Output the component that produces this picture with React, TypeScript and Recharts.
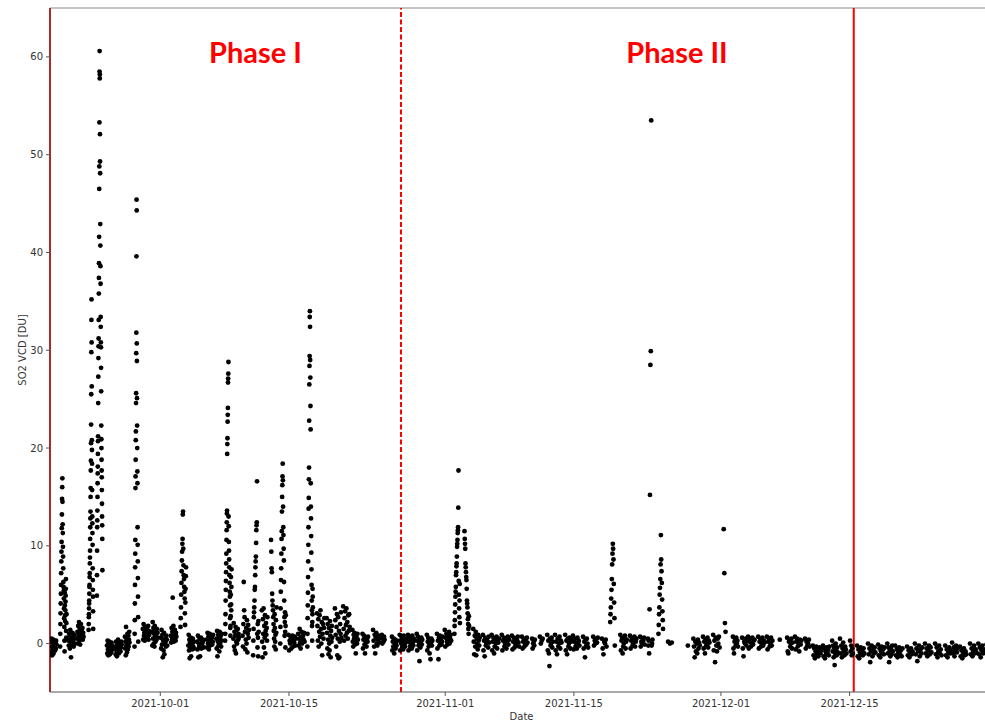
import { ScatterChart, Scatter, XAxis, YAxis, ReferenceLine } from "recharts";

const DAY = 86400000;
const BASE = Date.UTC(2021, 8, 19);

// [day since 2021-09-19, span of the day's overpasses in days, SO2 VCD values in time order]
type DayCol = [number, number, number[]];

const septemberDays: DayCol[] = [
  [0.1, 0.6, [0.2, -0.9, 0.5, -0.3, -1.2, 0.1, -0.6, 0.4, -1.0, 0.0, -0.4, 0.3, -0.2, -0.7, 0.1, -0.5, 0.3, -0.1]],
  [1.1, 0.7, [-0.3, 1.0, 2.0, 3.1, 4.1, 5.1, 6.0, 7.2, 8.4, 9.4, 10.4, 11.8, 13.2, 14.8, 16.0, 16.9, 14.5, 12.2, 11.3, 9.9, 8.9, 7.7, 6.3, 5.8, 5.4, 4.6, 3.6, 2.6, 1.7, 0.3, -0.8, 5.2, 3.9, 2.3, 2.9, 3.4, 4.3, 4.9, 5.6, 6.6, 1.3, 0.6, 2.1, 3.0]],
  [2.0, 0.7, [0.3, -0.2, 1.0, 0.6, -0.5, 1.4, 0.1, -1.4, 0.8, -0.1, 0.4, 1.1, 0.2, 0.7, -0.3, 0.5, 0.9, 0.0]],
  [2.95, 0.7, [0.5, 1.2, 0.0, 1.8, 0.8, 2.2, 0.3, 1.5, -0.1, 1.0, 2.0, 0.6, 1.3, 0.9, 1.6, 0.4, 1.1, 0.7]],
  [4.2, 0.5, [1.4, 2.0, 2.7, 3.0, 3.6, 4.1, 4.4, 5.1, 5.8, 6.0, 6.8, 7.2, 8.2, 8.8, 9.5, 10.7, 11.9, 12.8, 13.5, 15.0, 15.9, 17.7, 18.7, 20.5, 22.4, 25.5, 29.8, 33.1, 35.2, 30.8, 26.3, 20.8, 19.8, 18.4, 15.7, 13.0, 12.3, 11.3, 10.1, 7.7, 6.5, 5.5, 4.8, 3.3, 1.5]],
  [5.1, 0.6, [4.9, 7.0, 9.5, 11.9, 12.6, 13.6, 15.0, 16.4, 17.4, 18.1, 19.4, 20.7, 21.2, 24.6, 27.3, 29.2, 30.4, 31.2, 33.1, 35.8, 37.4, 38.9, 41.6, 46.5, 48.8, 53.3, 58.5, 60.6, 57.8, 58.2, 52.1, 49.3, 48.1, 42.9, 40.7, 38.6, 36.8, 33.4, 32.4, 30.8, 30.3, 28.2, 25.8, 22.3, 20.9, 20.0, 18.8, 17.7, 17.0, 15.7, 14.3, 13.0, 12.1, 10.7, 7.5]],
  [6.2, 0.6, [-0.2, -1.0, 0.3, -0.6, -1.2, 0.0, -0.8, 0.2, -0.4, -1.1, -0.1, -0.7, -0.3, -0.9, 0.1, -0.5, -0.2, -0.6]],
  [7.1, 0.7, [-0.3, -1.1, 0.2, -0.7, -1.3, 0.0, -0.9, 0.4, -0.5, -1.0, -0.2, -0.6, 0.1, -0.8, -0.4, 0.2, -0.1]],
  [8.15, 0.5, [0.7, -0.5, 0.2, -1.2, 1.7, -0.2, 0.5, -0.9, 0.0, 1.0, -0.6, 0.3, 0.8, -0.3, 0.4, 1.2, 0.1]],
  [9.2, 0.4, [-0.3, 1.0, 2.4, 4.1, 6.0, 7.8, 9.2, 10.6, 15.9, 17.1, 18.8, 20.8, 21.7, 24.6, 25.6, 29.7, 31.8, 39.6, 45.4, 44.3, 30.7, 28.9, 25.1, 22.3, 20.0, 17.6, 16.4, 11.9, 10.1, 8.4, 6.7, 4.8, 2.7, 0.2]],
  [10.1, 0.7, [1.5, 0.4, 2.0, 0.8, 1.1, 0.3, 1.7, 0.6, 1.2, 0.5, 0.9, 1.4, 1.0, 0.7, 1.8, 0.4, 1.3, 0.9]],
  [11.1, 0.6, [1.2, -0.2, 2.2, 0.5, 1.6, 0.0, 1.0, -0.3, 1.8, 0.7, 0.2, 1.3, 0.9, 0.4, 1.5, 0.6, 1.1]],
];

const phaseOneDays: DayCol[] = [
  [12.05, 0.7, [0.6, -0.5, 1.4, -0.1, 0.9, -1.4, 0.3, -0.7, 1.1, -1.1, 0.0, 0.5, 0.2, -0.3, 0.8, 0.4, -0.2]],
  [13.15, 0.6, [0.8, 0.1, 1.6, 0.4, 1.2, 4.7, 0.6, 1.8, 0.2, 1.0, 0.5, 1.4, 0.9, 0.3, 1.1, 0.7]],
  [14.2, 0.6, [1.7, 2.6, 3.7, 5.0, 6.2, 7.4, 8.5, 9.4, 10.2, 10.7, 13.2, 13.5, 9.7, 8.0, 7.0, 6.6, 5.8, 5.3, 4.6, 3.1, 1.9, 4.2, 5.6, 6.9, 7.8]],
  [15.05, 0.6, [-0.2, 0.9, -0.7, 0.4, -1.5, 0.1, -0.4, 0.6, -1.3, -0.1, 0.3, -0.6, 0.0, 0.5, -0.3, 0.2, -0.5]],
  [16.0, 0.7, [0.2, -0.6, 0.8, -1.4, 0.0, -0.3, 0.5, -1.3, -0.1, 0.6, -0.5, 0.3, -0.2, 0.1, 0.4, -0.4]],
  [17.05, 0.7, [0.4, -0.4, 1.1, 0.0, 0.7, -0.6, 0.3, 1.0, -0.2, 0.5, 0.8, 0.1, 0.6, -0.1, 0.2, 0.9]],
  [18.1, 0.6, [0.5, -0.5, 1.3, -1.3, 0.2, 0.9, -0.2, 0.6, -0.8, 1.2, 0.0, 0.4, 0.8, -0.3, 0.3, 1.0]],
  [19.05, 0.7, [0.3, 1.0, 2.0, 3.0, 4.4, 5.5, 6.4, 7.3, 8.2, 9.2, 10.6, 11.6, 12.4, 13.3, 13.6, 19.4, 20.4, 21.0, 22.7, 23.4, 24.1, 26.7, 27.1, 27.6, 28.8, 13.0, 12.0, 10.4, 9.5, 8.6, 7.8, 7.0, 6.2, 5.3, 4.8, 3.9, 2.6, 1.6, 0.8, 1.8, 2.8, 5.0, 6.8, 4.0, 3.4, 5.8, 7.6]],
  [19.95, 0.6, [0.5, 2.1, -0.3, 1.2, -0.7, 0.8, 1.7, -1.0, 0.2, 1.4, 0.0, 0.9, 1.5, 0.4, 1.0, 0.6]],
  [20.95, 0.7, [0.8, -0.3, 2.0, 6.3, 3.4, 2.7, 1.2, -0.6, 0.4, 1.6, 0.0, 2.4, -0.9, 1.0, 1.9, 0.6, 1.4]],
  [22.1, 0.6, [-1.2, 0.3, 1.5, 2.7, 3.2, 3.7, 4.4, 5.5, 5.8, 7.0, 7.8, 8.4, 8.9, 10.3, 11.6, 12.1, 12.4, 16.6, 1.0, -0.4, 2.0, 0.6, -1.3, 2.3, 1.2]],
  [23.05, 0.6, [3.4, 0.2, -1.4, 2.5, 1.0, 3.6, -0.4, 1.8, 0.6, 2.9, -1.0, 1.3, 2.1, 0.9, 1.6, 0.3, 2.7]],
  [24.05, 0.6, [10.6, 9.4, 7.7, 7.3, 5.1, 4.4, 3.9, 3.4, 2.7, 2.0, 1.3, 0.5, -0.3, 3.0, 1.6, 0.2, 0.9, -0.6, 2.4, 1.1, 3.7]],
  [25.05, 0.6, [0.0, 1.7, 3.6, 5.3, 6.5, 7.7, 9.2, 10.7, 11.5, 13.5, 15.0, 16.2, 17.1, 18.4, 16.7, 14.0, 11.9, 11.1, 9.7, 8.5, 6.3, 4.4, 2.7, 0.8, 2.2, 3.2, 1.2, -0.4, 1.8, 2.9]],
  [25.95, 0.8, [0.9, -0.7, 0.3, 0.0, 0.6, -0.5, 0.2, 0.8, -0.3, 0.4, 0.1, 0.7, -0.2, 0.5]],
  [27.0, 0.7, [1.0, -0.2, 0.5, 1.5, 0.1, -0.5, 0.7, 1.2, 0.0, 0.3, 0.8, 0.4, 1.1, 0.2]],
  [28.0, 0.6, [-0.3, 1.0, 2.6, 3.9, 5.2, 6.8, 8.4, 10.1, 11.9, 13.8, 14.9, 16.8, 18.0, 22.8, 26.5, 28.4, 29.4, 33.4, 34.0, 32.4, 29.0, 27.2, 24.3, 21.9, 16.4, 14.0, 12.8, 11.0, 9.3, 7.6, 6.0, 4.4, 3.4, 1.8, 0.3, 2.2, 3.0, 5.6, 4.8, 3.7]],
  [29.05, 0.8, [3.1, 1.8, 0.3, 2.5, -0.3, 1.2, 2.9, 0.7, 3.4, 1.5, 0.0, 2.2, -1.2, 1.0, 2.0, 0.5, 1.6, 2.6]],
  [30.1, 0.6, [2.6, 1.1, -0.5, 2.0, 0.4, -1.1, 1.6, 0.0, -0.7, 2.3, 0.8, -1.4, 1.3, 0.2, 1.8, 0.6]],
  [31.0, 0.7, [3.6, 2.4, 0.9, -0.3, 1.7, 3.0, -1.2, 0.5, 2.7, -1.5, 1.3, -1.4, 0.2, 2.0, 1.0, 3.2, 0.6]],
  [31.9, 0.7, [3.8, 1.5, 0.3, 2.6, 3.3, 0.8, 1.9, 3.6, 1.1, 2.2, 0.5, 2.9, 1.3, 3.0, 1.7]],
  [32.9, 0.6, [1.4, 0.2, -0.3, 0.9, 0.5, 1.1, -0.1, 0.7, -1.0, 0.3, 0.6, 0.0, 1.0, 0.4]],
  [34.0, 0.6, [1.0, -0.5, 0.4, 0.8, -0.1, -1.0, 0.6, 0.1, -0.3, 0.5, 0.2, 0.7]],
  [35.15, 0.7, [1.4, 0.3, -0.3, 0.9, -1.0, 0.6, 1.1, 0.0, -0.2, 0.4, 0.8, 0.1, 0.5]],
  [36.1, 0.3, [0.9, 0.0, 0.5, 0.2, 0.7, 0.4]],
  [37.2, 0.55, [0.7, -0.7, 0.2, -0.3, 0.5, -1.0, 0.0, 0.4, -0.5, 0.1, -0.2, 0.3]],
];

const phaseTwoDays: DayCol[] = [
  [38.05, 0.7, [0.9, -0.7, 0.3, 0.0, 0.6, -0.4, 0.2, -0.6, 0.8, -0.1, 0.4, -0.3, 0.1, 0.5]],
  [38.95, 0.7, [0.9, -0.7, 0.2, 0.6, -0.3, 0.0, 0.4, -0.5, 0.8, 0.1, -0.2, 0.5, 0.3]],
  [39.9, 0.6, [1.0, -0.7, 0.3, 0.7, -0.2, 0.1, -1.8, 0.5, -0.4, 0.2, 0.6, -0.1, 0.4]],
  [41.0, 0.6, [0.9, -0.7, 0.2, 0.6, -0.3, 0.0, -1.0, 0.4, -1.6, 0.1, 0.5, -0.2, 0.3]],
  [42.1, 0.6, [1.0, -0.5, 0.3, -1.6, 0.6, -0.2, 0.8, 0.0, 0.4, -0.1, 0.2, 0.7]],
  [42.95, 0.7, [1.4, -0.3, 0.6, 1.0, 0.2, -0.1, 0.8, 0.4, 1.2, 0.0, 0.5, 0.9, 0.3]],
  [44.0, 0.6, [1.0, 1.8, 2.4, 3.2, 4.0, 4.8, 5.3, 5.8, 7.0, 7.3, 7.9, 8.2, 8.9, 9.9, 10.2, 10.6, 11.3, 11.6, 11.9, 13.9, 17.7, 6.4, 5.0, 3.6, 2.7, 4.4, 6.1, 2.1]],
  [45.1, 0.5, [11.5, 10.7, 10.2, 9.7, 8.2, 7.8, 7.3, 6.8, 6.5, 5.6, 4.4, 4.1, 3.7, 3.1, 2.5, 2.0, 1.5, 1.0, 2.8, 1.8]],
  [46.05, 0.7, [1.5, 0.2, -1.1, 0.8, -0.3, 1.2, -1.2, 0.5, 0.0, -0.6, 0.9, 0.3, -0.2, 0.6]],
  [47.1, 0.7, [0.9, -0.7, 0.3, -1.3, 0.6, -0.2, 0.0, 0.5, 0.2, -0.4, 0.7, 0.1]],
  [48.05, 0.8, [0.9, -0.7, 0.2, 0.6, -1.0, -0.3, 0.4, 0.0, 0.7, -0.5, 0.3, 0.1, 0.5]],
  [49.15, 0.8, [0.9, -0.7, 0.3, 0.6, -0.3, 0.0, 0.5, -0.5, 0.2, 0.7, -0.1, 0.4]],
  [50.25, 0.8, [0.8, -0.6, 0.2, 0.6, -0.4, 0.0, 0.5, -0.2, 0.3, 0.7, 0.1, -0.3]],
  [51.35, 0.6, [0.7, -0.5, 0.2, 0.5, -0.3, 0.0, 0.4, -0.1, 0.6, 0.1]],
  [52.45, 0.3, [0.5, -0.5, 0.0, 0.2, -0.2, 0.4]],
  [53.3, 0.3, [0.7, 0.0, 0.3, 0.5]],
  [54.1, 0.6, [0.9, -0.7, 0.3, -1.0, -2.3, 0.5, -0.2, 0.0, 0.6, -0.4, 0.2]],
  [54.95, 0.7, [0.9, -0.7, 0.2, -1.1, 0.5, -0.3, 0.0, 0.7, -0.5, 0.3, 0.1]],
  [56.05, 0.7, [0.9, -0.7, 0.3, -1.1, 0.5, -0.3, 0.0, 0.6, -0.5, 0.2, 0.4]],
  [56.9, 0.7, [0.8, -0.6, 0.2, 0.5, -0.3, 0.0, -0.5, 0.6, 0.1, 0.3, -0.2]],
  [58.0, 0.55, [0.7, -0.5, 0.2, -1.4, 0.4, -0.2, 0.5, 0.0, -0.4]],
  [59.1, 0.5, [0.7, -0.2, 0.3, 0.0, 0.5, 0.1, 0.6]],
  [60.05, 0.5, [0.5, -0.5, -1.1, 0.2, 0.0, 0.4, -0.3]],
  [60.95, 0.5, [2.2, 3.0, 3.7, 4.6, 5.5, 6.6, 8.1, 9.2, 10.2, 9.7, 8.6, 6.1, 4.2, 2.6, -0.2]],
  [62.05, 0.7, [0.9, -0.7, 0.3, 0.6, -1.0, -0.3, 0.0, 0.5, 0.8, -0.5, 0.2, 0.4]],
  [63.1, 0.7, [0.8, -0.5, 0.3, 0.6, -0.2, 0.0, 0.4, 0.7, -0.3, 0.2, 0.5]],
  [64.2, 0.5, [0.7, -0.3, 0.2, 0.0, 0.5, 0.3, 0.6, -0.1]],
  [65.05, 0.5, [0.5, -0.2, 0.3, -1.0, 3.5, 15.2, 28.5, 29.9, 53.5, -0.2, 0.0, 0.4]],
  [66.2, 0.5, [1.0, 1.9, 3.0, 3.7, 5.0, 5.7, 6.6, 8.1, 11.1, 8.6, 7.4, 6.2, 4.5, 3.3, 2.4, 1.5]],
  [67.25, 0.4, [0.2, 0.0, 0.1]],
  [69.4, 0, [-0.2]],
  [70.0, 0.7, [0.5, -0.3, -1.4, 0.2, -0.8, 0.0, -1.0, 0.4, -0.5, 0.1, -0.2]],
  [71.05, 0.7, [0.7, -0.5, 0.2, -1.0, 0.4, -0.2, 0.0, 0.6, -0.4, 0.3, 0.1]],
  [72.15, 0.7, [0.9, -0.7, 0.3, -1.9, 0.6, -0.2, -0.8, 0.5, 0.0, 0.7, -0.4]],
  [73.3, 0.2, [11.7, 7.2, 2.1, 1.2]],
  [74.3, 0.55, [0.7, -0.5, -1.0, 0.2, 0.5, -0.2, 0.6, 0.0, 0.3, -0.3]],
  [75.3, 0.55, [0.6, -0.5, -1.3, 0.2, 0.0, 0.5, -0.2, 0.3]],
  [75.95, 0.7, [0.7, -0.5, 0.2, 0.5, -0.3, 0.0, 0.6, -0.1, 0.3, 0.4]],
  [77.05, 0.7, [0.7, -0.5, 0.2, 0.5, -0.3, 0.0, 0.6, -0.2, 0.3, 0.1]],
  [78.0, 0.6, [0.7, -0.6, 0.2, 0.5, -0.3, 0.0, 0.6, -0.2, 0.3]],
  [79.4, 0, [0.4]],
  [80.2, 0.6, [0.6, -0.8, -1.0, 0.2, 0.4, -0.3, 0.0, 0.5, -0.5, 0.1]],
  [81.05, 0.7, [0.7, -0.6, 0.2, 0.5, -0.3, 0.0, -0.8, 0.4, -0.1, 0.3]],
  [82.15, 0.5, [0.5, -0.5, 0.2, -0.2, 0.0, 0.4, -0.3]],
  [83.0, 0.9, [-0.2, -1.2, -0.5, -1.5, -0.8, -0.3, -1.1, -0.6, -1.3, -0.9, -0.4, -1.0, -0.7]],
  [84.1, 0.7, [-0.2, -1.3, -0.5, -1.5, -0.8, -1.1, -0.4, -0.9, -0.6, -1.2, -0.3]],
  [85.1, 0.6, [0.3, -0.8, -0.2, -1.4, -0.5, -2.2, -1.0, 0.0, -0.7, -1.2, -0.4, -0.9]],
  [85.95, 0.7, [0.5, -1.0, -0.2, -1.4, -0.5, 0.1, -0.8, -1.2, -0.3, -0.6, -1.0]],
  [87.05, 0.3, [0.3, -0.8, -0.2, -1.2, -0.5, -1.0]],
];

const decemberDays: DayCol[] = [
  [87.8, 0.8, [-0.2, -1.3, -0.6, -1.5, -0.9, -0.4, -1.1, -0.7, -1.2, -0.5, -1.0]],
  [89.0, 0.8, [0.0, -1.1, -0.5, -1.9, -0.8, -0.2, -1.3, -0.6, -1.0, -0.4, -0.9]],
  [90.1, 0.7, [-0.1, -1.2, -0.5, -1.4, -0.8, -0.3, -1.0, -0.6, -1.1, -0.4]],
  [91.1, 0.6, [0.0, -1.0, -0.4, -1.9, -0.7, -1.3, -0.5, -1.1, -0.2, -0.8]],
  [91.95, 0.8, [-0.2, -1.2, -0.6, -1.4, -0.9, -0.4, -1.1, -0.7, -1.3, -0.5]],
  [93.25, 0.6, [-0.3, -1.2, -0.7, -1.4, -0.9, -0.5, -1.1, -0.8]],
  [94.1, 0.8, [0.0, -1.1, -0.5, -1.8, -0.8, -0.2, -1.3, -0.6, -1.0, -0.4]],
  [95.2, 0.7, [0.0, -1.0, -0.5, -1.3, -0.7, -0.2, -1.1, -0.4, -0.9]],
  [96.3, 0.7, [0.0, -1.1, -0.4, -1.4, -0.8, -0.2, -1.0, -0.6, -1.2]],
  [97.4, 0.6, [-0.2, -1.2, -0.6, -1.4, -0.9, -0.4, -1.0, -0.7]],
  [98.15, 0.6, [0.1, -1.0, -0.4, -1.3, -0.7, -0.2, -0.9, -0.5]],
  [99.0, 0.7, [-0.3, -1.3, -0.7, -1.5, -1.0, -0.5, -1.2, -0.8, -1.1]],
  [100.1, 0.7, [0.0, -1.1, -0.5, -1.3, -0.8, -0.2, -1.0, -0.6, -0.9]],
  [101.0, 0.7, [0.0, -1.1, -0.4, -1.4, -0.7, -0.2, -1.0, -0.6, -0.9]],
  [101.9, 0.6, [-0.1, -1.0, -0.5, -1.3, -0.7, -0.9]],
];

const xTickDates = ["2021-10-01", "2021-10-15", "2021-11-01", "2021-11-15", "2021-12-01", "2021-12-15"];
const yTicks = [0, 10, 20, 30, 40, 50, 60];
// phase boundaries, in days since 2021-09-19
const phaseStart = 0;
const phaseSplit = 38.19;
const phaseEnd = 87.45;

const expand = (cols: DayCol[]) =>
  cols.flatMap(([day, span, values]) =>
    values.map((v, i) => ({
      t: BASE + (day + (values.length > 1 ? (span * i) / (values.length - 1) : span / 2)) * DAY,
      v,
    }))
  );

const points = [...expand(septemberDays), ...expand(phaseOneDays), ...expand(phaseTwoDays), ...expand(decemberDays)];
const xTicks = xTickDates.map((d) => Date.parse(d + "T00:00:00Z"));

const Dot = (p: any) => <circle cx={p.cx} cy={p.cy} r={2.4} fill="#000" />;

const tickFont = { fontFamily: "DejaVu Sans", fontSize: 10, fill: "#333" };

export default function App() {
  return (
    <div style={{ position: "absolute", left: 0, top: 0, width: 985, height: 723, overflow: "hidden", background: "#fff" }}>
      <ScatterChart width={993} height={723} margin={{ top: 8, right: 0, bottom: 0, left: 0 }}>
        <XAxis
          type="number"
          dataKey="t"
          domain={[BASE, BASE + 102.6 * DAY]}
          allowDataOverflow
          ticks={xTicks}
          tickFormatter={(t: number) => new Date(t).toISOString().slice(0, 10)}
          height={31}
          tickSize={4}
          tickMargin={4}
          tick={tickFont}
          stroke="#555"
        />
        <YAxis
          type="number"
          dataKey="v"
          domain={[-4.95, 65]}
          allowDataOverflow
          ticks={yTicks}
          width={50}
          tickSize={4}
          tickMargin={3}
          tick={tickFont}
          stroke="#555"
        />
        <Scatter data={points} shape={Dot} isAnimationActive={false} />
        <ReferenceLine y={65} stroke="#888" strokeWidth={1} />
        <ReferenceLine x={BASE + phaseStart * DAY} stroke="#f00" strokeWidth={2} />
        <ReferenceLine x={BASE + phaseSplit * DAY} stroke="#f00" strokeWidth={2} strokeDasharray="5 2.5" />
        <ReferenceLine x={BASE + phaseEnd * DAY} stroke="#f00" strokeWidth={2} />
      </ScatterChart>
      <svg width={985} height={723} style={{ position: "absolute", left: 0, top: 0, pointerEvents: "none" }}>
        <text x={255.5} y={63} textAnchor="middle" fontFamily="Lato" fontWeight="bold" fontSize={29} fill="#f00">
          Phase I
        </text>
        <text x={677} y={63} textAnchor="middle" fontFamily="Lato" fontWeight="bold" fontSize={29} fill="#f00">
          Phase II
        </text>
        <text x={521.5} y={720} textAnchor="middle" fontFamily="DejaVu Sans" fontSize={10} fill="#333">
          Date
        </text>
        <text
          transform="translate(26 350) rotate(-90)"
          textAnchor="middle"
          fontFamily="DejaVu Sans"
          fontSize={10}
          fill="#333"
        >
          SO2 VCD [DU]
        </text>
      </svg>
    </div>
  );
}
